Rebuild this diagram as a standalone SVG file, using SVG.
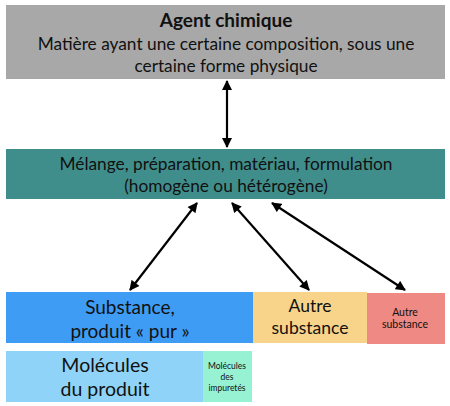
<svg xmlns="http://www.w3.org/2000/svg" width="450" height="406" viewBox="0 0 450 406">
<defs>
<marker id="ah" viewBox="0 0 10 10" refX="9" refY="5" markerWidth="11" markerHeight="10" orient="auto-start-reverse" markerUnits="userSpaceOnUse">
<path d="M0,0 L10,5 L0,10 z" fill="#000"/>
</marker>
<style>
text{font-family:Lato,"Open Sans","Liberation Sans",sans-serif;fill:#111;text-anchor:middle}
.c{stroke:#000;stroke-width:2.2;fill:none;marker-start:url(#ah);marker-end:url(#ah)}
</style>
</defs>
<rect width="450" height="406" fill="#fff"/>
<g id="agent">
<rect x="6" y="5" width="439" height="74" fill="#a8a8a8"/>
<text x="226" y="27" font-size="19" font-weight="bold">Agent chimique</text>
<text x="226" y="50" font-size="17.3">Matière ayant une certaine composition, sous une</text>
<text x="226" y="72" font-size="17.3">certaine forme physique</text>
</g>
<g id="melange">
<rect x="6" y="149" width="439" height="50" fill="#408e8b"/>
<text x="226" y="170" font-size="17.3">Mélange, préparation, matériau, formulation</text>
<text x="226" y="192" font-size="17.3">(homogène ou hétérogène)</text>
</g>
<g id="substance">
<rect x="6" y="292" width="247" height="51" fill="#3f9cf5"/>
<text x="130" y="314" font-size="19">Substance,</text>
<text x="130" y="338" font-size="19">produit « pur »</text>
</g>
<g id="autre1">
<rect x="253" y="292" width="114" height="51" fill="#f8d48a"/>
<text x="310" y="312" font-size="17.5">Autre</text>
<text x="310" y="334" font-size="17.5">substance</text>
</g>
<g id="autre2">
<rect x="367" y="293" width="78" height="51" fill="#ef8983"/>
<text x="405" y="316" font-size="10.5">Autre</text>
<text x="405" y="328" font-size="10.5">substance</text>
</g>
<g id="molecules">
<rect x="6" y="351" width="197" height="51" fill="#8fd3f9"/>
<text x="105" y="372" font-size="19.5">Molécules</text>
<text x="105" y="396" font-size="19.5">du produit</text>
</g>
<g id="impuretes">
<rect x="203" y="351" width="49" height="51" fill="#97f2d4"/>
<text x="227" y="369" font-size="8.5">Molécules</text>
<text x="227" y="380" font-size="8.5">des</text>
<text x="227" y="391" font-size="8.5">impuretés</text>
</g>
<g id="connectors">
<line class="c" x1="227" y1="81" x2="227" y2="147"/>
<line class="c" x1="197" y1="203" x2="130" y2="290"/>
<line class="c" x1="232" y1="203" x2="309" y2="290"/>
<line class="c" x1="272" y1="203" x2="405" y2="290"/>
</g>
</svg>
